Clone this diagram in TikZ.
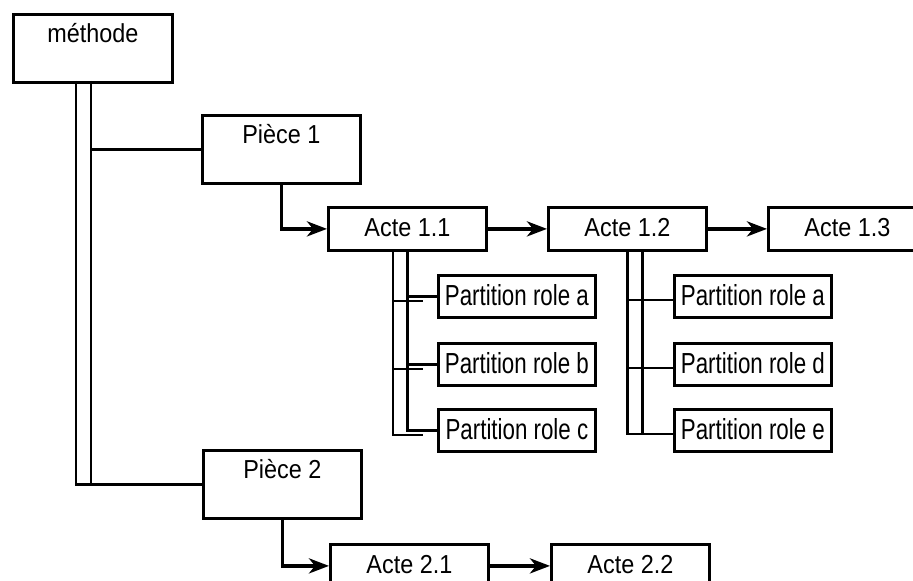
\documentclass[tikz,border=0pt]{standalone}
\usepackage{fontspec}
\setmainfont{Liberation Sans}
\newfontfamily\boxfont[FakeStretch=0.9]{Liberation Sans}
\newfontfamily\partfont[FakeStretch=0.77]{Liberation Sans}
\usetikzlibrary{arrows.meta}

\begin{document}
\begin{tikzpicture}[x=0.5pt, y=-0.5pt,
    box/.style={draw, line width=1.4pt, inner sep=0pt, minimum width=79pt,
        text height=14.5pt, text depth=7pt, font=\boxfont\fontsize{13pt}{15pt}\selectfont},
    bigbox/.style={box, text height=14pt, text depth=20pt},
    rolebox/.style={box, minimum width=78.5pt, text height=15pt, text depth=6pt,
        font=\partfont\fontsize{14.5pt}{16pt}\selectfont},
    link/.style={line width=1.3pt},
    flow/.style={line width=1.8pt, -{Stealth[length=10pt, width=7.5pt, inset=3pt]}}]
    \useasboundingbox (0,0) rectangle (913,581);
    \clip (0,0) rectangle (913,581);

    % Methode
    \node[bigbox, minimum width=79.5pt, anchor=north west] (meth) at (12,13) {méthode};

    % Pieces
    \node[bigbox, anchor=north west] (p1) at (201,114) {Pièce 1};
    \node[bigbox, anchor=north west] (p2) at (202,449) {Pièce 2};

    % Actes
    \node[box, anchor=north west] (a11) at (327,206) {Acte 1.1};
    \node[box, anchor=north west] (a12) at (547,206) {Acte 1.2};
    \node[box, anchor=north west] (a13) at (767,206) {Acte 1.3};
    \node[box, anchor=north west] (a21) at (329,543) {Acte 2.1};
    \node[box, anchor=north west] (a22) at (550,543) {Acte 2.2};

    % Partitions
    \foreach \n/\y in {a/274, b/342, c/408}
        \node[rolebox, anchor=north west] (r1\n) at (437,\y) {Partition role \n};
    \foreach \n/\y in {a/274, d/342, e/408}
        \node[rolebox, anchor=north west] (r2\n) at (673,\y) {Partition role \n};

    % Methode to pieces
    \coordinate (mo) at (76,81);
    \coordinate (mi) at (91,81);
    \draw[link] (mi) -- (mi |- p2.west);
    \draw[link] (mi |- p1.west) -- (p1.west);
    \draw[link] (mo) |- (p2.west);

    % Arrows
    \draw[flow] (p1.south) |- (a11.west);
    \draw[flow] (p2.south) |- (a21.west);
    \draw[flow] (a11) -- (a12);
    \draw[flow] (a12) -- (a13);
    \draw[flow] (a21) -- (a22);

    % Acte 1.1 to partitions
    \coordinate (o11) at ([xshift=-7.25pt]a11.south);
    \foreach \n in {a,b,c}
        \coordinate (s1\n) at ([yshift=-2.25pt]r1\n.west);
    \draw[link] (a11.south) |- (r1c.west);
    \draw[link] (a11.south |- r1a.west) -- (r1a.west);
    \draw[link] (a11.south |- r1b.west) -- (r1b.west);
    \draw[link] (o11) |- ([xshift=-7pt]s1c);
    \foreach \n in {a,b}
        \draw[link] (s1\n -| o11) -- ([xshift=-7pt]s1\n);

    % Acte 1.2 to partitions
    \coordinate (i12) at ([xshift=7.5pt]a12.south);
    \foreach \n in {a,d,e}
        \coordinate (s2\n) at ([yshift=-1.75pt]r2\n.west);
    \draw[link] (a12.south) |- (s2e);
    \draw[link] (s2a -| a12.south) -- (s2a);
    \draw[link] (s2d -| a12.south) -- (s2d);
    \draw[link] (i12) -- (i12 |- s2e);

\end{tikzpicture}
\end{document}
